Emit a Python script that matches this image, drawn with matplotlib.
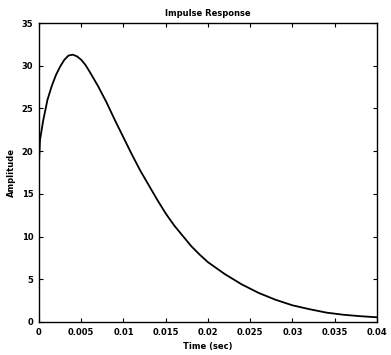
import matplotlib
matplotlib.use('Agg')
import matplotlib.pyplot as plt

# impulse response samples
times = [0, 0.00012, 0.0005, 0.001, 0.0015, 0.002, 0.0025, 0.003, 0.0035, 0.004,
         0.0045, 0.005, 0.0055, 0.006, 0.007, 0.008, 0.009, 0.010, 0.011, 0.012,
         0.013, 0.014, 0.015, 0.016, 0.017, 0.018, 0.019, 0.020, 0.021, 0.022,
         0.024, 0.026, 0.028, 0.030, 0.032, 0.034, 0.036, 0.038, 0.040]
amps = [18.6, 21.3, 23.6, 26.0, 27.6, 28.9, 29.9, 30.7, 31.2, 31.3,
        31.1, 30.7, 30.1, 29.3, 27.6, 25.7, 23.6, 21.6, 19.6, 17.7,
        16.0, 14.3, 12.7, 11.3, 10.1, 8.9, 7.9, 7.0, 6.3, 5.6,
        4.4, 3.4, 2.6, 1.95, 1.5, 1.1, 0.85, 0.68, 0.55]

xticks = [0, 0.005, 0.01, 0.015, 0.02, 0.025, 0.03, 0.035, 0.04]
xticklabels = ['0', '0.005', '0.01', '0.015', '0.02', '0.025', '0.03', '0.035', '0.04']
yticks = [0, 5, 10, 15, 20, 25, 30, 35]

fig = plt.figure(figsize=(3.91, 3.55), dpi=100)
ax = fig.add_axes([0.0997, 0.093, 0.8645, 0.842])
ax.plot(times, amps, color='black', lw=1.3)

ax.set_xlim(0, 0.04)
ax.set_ylim(0, 35)
ax.set_xticks(xticks)
ax.set_xticklabels(xticklabels)
ax.set_yticks(yticks)
ax.tick_params(direction='in', top=True, right=True, length=3, labelsize=6, pad=4)
for lab in ax.get_xticklabels() + ax.get_yticklabels():
    lab.set_fontweight('bold')
for s in ax.spines.values():
    s.set_linewidth(1.0)

ax.set_title('Impulse Response', fontsize=6, fontweight='bold', pad=5)
ax.set_xlabel('Time (sec)', fontsize=6, fontweight='bold', labelpad=4)
ax.set_ylabel('Amplitude', fontsize=6, fontweight='bold', labelpad=4)

fig.savefig('out.png', dpi=100)
